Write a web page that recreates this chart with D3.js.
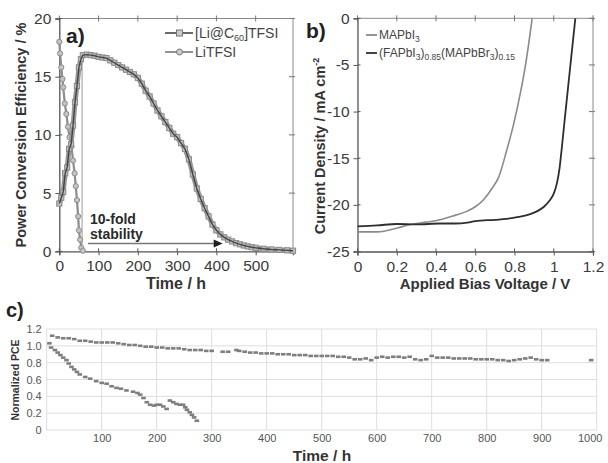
<!DOCTYPE html>
<html>
<head>
<meta charset="utf-8">
<script src="https://cdn.jsdelivr.net/npm/d3@7"></script>
<style>
  body { margin: 0; background: #fff; }
  text { font-family: "Liberation Sans", Arial, sans-serif; }
</style>
</head>
<body>
<div id="chart"></div>
<script>
// ---- data: panel a (PCE vs time) ----
var liC60_t = [0, 5, 10, 15, 20, 25, 30, 35, 40, 45, 50, 55, 60, 70, 80, 90, 100, 110, 120, 130, 140, 150, 160, 170, 180, 190, 200, 210, 220, 230, 240, 250, 260, 270, 280, 290, 300, 310, 320, 330, 340, 350, 360, 370, 380, 390, 400, 410, 420, 430, 440, 450, 460, 470, 480, 490, 500, 520, 540, 560, 580, 595];
var liC60_pce = [4.1, 4.6, 5.1, 6.7, 7.2, 8.8, 9.2, 10.8, 12.8, 14.2, 15.8, 16.5, 16.85, 16.9, 16.85, 16.8, 16.7, 16.65, 16.6, 16.4, 16.2, 16.0, 15.8, 15.6, 15.4, 15.2, 14.9, 14.4, 13.8, 13.3, 12.7, 12.1, 11.6, 11.1, 10.6, 10.1, 9.8, 9.3, 8.8, 7.9, 6.6, 5.4, 4.5, 3.7, 3.0, 2.3, 1.8, 1.45, 1.2, 1.0, 0.85, 0.7, 0.6, 0.5, 0.42, 0.35, 0.3, 0.22, 0.16, 0.12, 0.08, 0.05];
var liTFSI_t = [0, 2, 5, 8, 10, 14, 18, 22, 26, 31, 35, 39, 42, 45, 48, 50, 53, 56, 60];
var liTFSI_pce = [18, 17, 15.8, 14.8, 14.1, 12.7, 11.8, 10.7, 9.8, 9.0, 7.8, 6.7, 5.6, 4.4, 3.0, 1.8, 1.0, 0.3, 0.05];
var a_xTicks = [0, 100, 200, 300, 400, 500];
var a_yTicks = [0, 5, 10, 15, 20];

// ---- data: panel b (J-V) ----
var mapi_v = [0, 0.1, 0.2, 0.25, 0.3, 0.35, 0.42, 0.5, 0.557, 0.6, 0.64, 0.68, 0.72, 0.761, 0.795, 0.83, 0.86, 0.89];
var mapi_j = [-22.9, -22.9, -22.5, -22.2, -22.0, -21.85, -21.6, -21.1, -20.7, -20.2, -19.5, -18.4, -17, -14.1, -11.4, -8, -4.5, 0];
var mix_v = [0, 0.1, 0.2, 0.3, 0.42, 0.5, 0.56, 0.6, 0.7, 0.76, 0.82, 0.88, 0.914, 0.95, 0.98, 1.0, 1.016, 1.03, 1.04, 1.06, 1.08, 1.1, 1.11];
var mix_j = [-22.3, -22.2, -22.05, -22.1, -22.0, -22.0, -21.9, -21.75, -21.6, -21.5, -21.3, -21.0, -20.7, -20.2, -19.5, -18.8, -17.7, -16, -14.1, -10, -6, -2, 0];
var b_xTicks = [0, 0.2, 0.4, 0.6, 0.8, 1, 1.2];
var b_yTicks = [0, -5, -10, -15, -20, -25];

// ---- data: panel c (normalized PCE) ----
var upper_t = [10, 20, 30, 40, 50, 60, 70, 80, 90, 100, 110, 120, 130, 140, 150, 160, 170, 180, 190, 200, 210, 220, 230, 240, 250, 260, 270, 280, 290, 300, 320, 330, 345, 350, 360, 370, 380, 390, 400, 410, 420, 430, 440, 450, 460, 470, 480, 490, 500, 510, 520, 530, 540, 550, 560, 570, 580, 590, 600, 610, 620, 630, 640, 650, 660, 670, 680, 690, 700, 710, 720, 730, 740, 750, 760, 770, 780, 790, 800, 810, 820, 830, 840, 850, 860, 870, 880, 890, 900, 910, 990];
var upper_v = [1.12, 1.10, 1.09, 1.09, 1.08, 1.06, 1.06, 1.05, 1.04, 1.04, 1.04, 1.04, 1.03, 1.02, 1.01, 1.01, 1.00, 0.99, 0.99, 0.98, 0.98, 0.97, 0.97, 0.97, 0.96, 0.95, 0.95, 0.95, 0.94, 0.94, 0.93, 0.93, 0.95, 0.94, 0.93, 0.92, 0.92, 0.91, 0.91, 0.91, 0.90, 0.90, 0.90, 0.89, 0.89, 0.89, 0.88, 0.88, 0.88, 0.88, 0.88, 0.87, 0.87, 0.86, 0.84, 0.84, 0.85, 0.83, 0.86, 0.87, 0.86, 0.87, 0.87, 0.86, 0.87, 0.84, 0.83, 0.84, 0.88, 0.86, 0.86, 0.86, 0.85, 0.85, 0.85, 0.85, 0.84, 0.84, 0.84, 0.84, 0.83, 0.83, 0.82, 0.83, 0.84, 0.85, 0.86, 0.84, 0.83, 0.83, 0.83];
var lower_t = [5, 8, 15, 20, 25, 30, 36, 40, 45, 50, 55, 60, 70, 79, 90, 100, 109, 118, 127, 135, 145, 157, 165, 170, 176, 182, 188, 195, 200, 206, 212, 218, 224, 230, 236, 242, 248, 252, 255, 260, 264, 268, 273];
var lower_v = [1.03, 0.98, 0.95, 0.92, 0.89, 0.86, 0.83, 0.79, 0.75, 0.72, 0.69, 0.66, 0.63, 0.61, 0.58, 0.56, 0.55, 0.52, 0.50, 0.49, 0.47, 0.455, 0.44, 0.42, 0.38, 0.33, 0.30, 0.29, 0.30, 0.30, 0.28, 0.25, 0.35, 0.33, 0.31, 0.30, 0.30, 0.27, 0.24, 0.21, 0.18, 0.15, 0.11];
var c_xTicks = [100, 200, 300, 400, 500, 600, 700, 800, 900, 1000];
var c_yTicks = [0, 0.2, 0.4, 0.6, 0.8, 1.0, 1.2];

var W = 608, H = 463;
var svg = d3.select("#chart").append("svg")
    .attr("width", W)
    .attr("height", H);

function zip(a, b) { return a.map(function (d, i) { return [d, b[i]]; }); }

// ================= panel a =================
var xa = d3.scaleLinear().domain([0, 595]).range([59.3, 293]);
var ya = d3.scaleLinear().domain([0, 20]).range([251.3, 18.5]);

function frame(g, x, y, xt, yt, fmtX, fmtY) {
    var x0 = x.range()[0], x1 = x.range()[1], y0 = y.range()[0], y1 = y.range()[1];
    // top / right (lighter)
    g.append("line").attr("x1", x0).attr("x2", x1).attr("y1", y1).attr("y2", y1)
        .attr("stroke", "#8a8a8a").attr("stroke-width", 1);
    g.append("line").attr("x1", x1).attr("x2", x1).attr("y1", y1).attr("y2", y0)
        .attr("stroke", "#8a8a8a").attr("stroke-width", 1);
    g.selectAll(".tt").data(xt).enter().append("line")
        .attr("x1", function (d) { return x(d); }).attr("x2", function (d) { return x(d); })
        .attr("y1", y1 - 3).attr("y2", y1 + 3).attr("stroke", "#777");
    g.selectAll(".rt").data(yt).enter().append("line")
        .attr("x1", x1 - 4).attr("x2", x1 + 2)
        .attr("y1", function (d) { return y(d); }).attr("y2", function (d) { return y(d); })
        .attr("stroke", "#777");
    // left / bottom axes
    var ax = g.append("g").attr("transform", "translate(0," + y0 + ")")
        .call(d3.axisBottom(x).tickValues(xt).tickSize(4).tickPadding(5).tickFormat(fmtX));
    var ay = g.append("g").attr("transform", "translate(" + x0 + ",0)")
        .call(d3.axisLeft(y).tickValues(yt).tickSize(4).tickPadding(4).tickFormat(fmtY));
    [ax, ay].forEach(function (s) {
        s.select(".domain").attr("stroke", "#555").attr("stroke-width", 1.3);
        s.selectAll(".tick line").attr("stroke", "#555");
        s.selectAll("text").attr("fill", "#3a3a3a").style("font-size", "15.5px");
    });
    // inner half of crossing ticks
    g.selectAll(".bi").data(xt).enter().append("line")
        .attr("x1", function (d) { return x(d); }).attr("x2", function (d) { return x(d); })
        .attr("y1", y0).attr("y2", y0 - 3).attr("stroke", "#555");
    g.selectAll(".li").data(yt).enter().append("line")
        .attr("x1", x0).attr("x2", x0 + 3)
        .attr("y1", function (d) { return y(d); }).attr("y2", function (d) { return y(d); })
        .attr("stroke", "#555");
}

var ga = svg.append("g");
frame(ga, xa, ya, a_xTicks, a_yTicks, d3.format("d"), d3.format("d"));

// thin marker line at start of stable region
ga.append("line")
    .attr("x1", xa(58)).attr("x2", xa(58))
    .attr("y1", ya(16.8)).attr("y2", ya(0))
    .attr("stroke", "#999").attr("stroke-width", 1);

var lineA = d3.line().x(function (d) { return xa(d[0]); }).y(function (d) { return ya(d[1]); });

var tfsiData = zip(liTFSI_t, liTFSI_pce);
ga.append("path").datum(tfsiData).attr("d", lineA)
    .attr("fill", "none").attr("stroke", "#8c8c8c").attr("stroke-width", 2.2);
ga.selectAll(".tfsiPt").data(tfsiData).enter().append("circle")
    .attr("cx", function (d) { return xa(d[0]); })
    .attr("cy", function (d) { return ya(d[1]); })
    .attr("r", 2.6)
    .attr("fill", "#c4c4c4").attr("stroke", "#8c8c8c").attr("stroke-width", 1);

var c60Data = zip(liC60_t, liC60_pce);
ga.append("path").datum(c60Data).attr("d", lineA)
    .attr("fill", "none").attr("stroke", "#9a9a9a").attr("stroke-width", 5);
ga.selectAll(".c60Pt").data(c60Data).enter().append("rect")
    .attr("x", function (d) { return xa(d[0]) - 2.6; })
    .attr("y", function (d) { return ya(d[1]) - 2.6; })
    .attr("width", 5.2).attr("height", 5.2)
    .attr("fill", "#bdbdbd").attr("stroke", "#8a8a8a").attr("stroke-width", 1);
ga.append("path").datum(c60Data).attr("d", lineA)
    .attr("fill", "none").attr("stroke", "#454545").attr("stroke-width", 1.4);

// annotation
ga.append("text").attr("x", 90).attr("y", 224).attr("font-weight", "bold")
    .style("font-size", "14px").attr("fill", "#2a2a2a").text("10-fold");
ga.append("text").attr("x", 90).attr("y", 239).attr("font-weight", "bold")
    .style("font-size", "14px").attr("fill", "#2a2a2a").text("stability");
ga.append("line").attr("x1", xa(73)).attr("x2", xa(395)).attr("y1", 243.5).attr("y2", 243.5)
    .attr("stroke", "#777").attr("stroke-width", 1.3);
ga.append("path")
    .attr("d", "M" + xa(393) + ",239.5L" + (xa(393) + 9) + ",243.5L" + xa(393) + ",247.5Z")
    .attr("fill", "#222");

// legend a
var legA = [
    { y: 33, sym: "rect", dark: true, parts: [["[Li@C", 0], ["60", 1], ["]TFSI", 0]] },
    { y: 52, sym: "circle", dark: false, parts: [["LiTFSI", 0]] }
];
legA.forEach(function (d) {
    ga.append("line").attr("x1", 165).attr("x2", 193).attr("y1", d.y).attr("y2", d.y)
        .attr("stroke", d.dark ? "#454545" : "#777").attr("stroke-width", 1.6);
    if (d.sym === "rect") {
        ga.append("rect").attr("x", 176.5).attr("y", d.y - 3).attr("width", 6).attr("height", 6)
            .attr("fill", "#ccc").attr("stroke", "#777");
    } else {
        ga.append("circle").attr("cx", 179.5).attr("cy", d.y).attr("r", 3)
            .attr("fill", "#ccc").attr("stroke", "#777");
    }
    var t = ga.append("text").attr("x", 195).attr("y", d.y + 5).style("font-size", "14px").attr("fill", "#444");
    d.parts.forEach(function (p) {
        t.append("tspan").text(p[0])
            .style("font-size", p[1] ? "9px" : "14px")
            .attr("dy", p[1] ? 3 : (p[0] === "]TFSI" ? -3 : 0));
    });
});

ga.append("text").attr("x", 66).attr("y", 43).attr("font-weight", "bold")
    .style("font-size", "21px").attr("fill", "#222").text("a)");
ga.append("text").attr("transform", "translate(26,135) rotate(-90)")
    .attr("text-anchor", "middle").attr("font-weight", "bold")
    .style("font-size", "14.5px").attr("fill", "#333").text("Power Conversion Efficiency / %");
ga.append("text").attr("x", 176).attr("y", 289).attr("text-anchor", "middle").attr("font-weight", "bold")
    .style("font-size", "16px").attr("fill", "#333").text("Time / h");

// ================= panel b =================
var xb = d3.scaleLinear().domain([0, 1.2]).range([357.5, 593]);
var yb = d3.scaleLinear().domain([-25, 0]).range([251.5, 18.3]);
var gb = svg.append("g");
frame(gb, xb, yb, b_xTicks, b_yTicks, function (d) { return d3.format("")(+d.toFixed(1)); }, d3.format("d"));
gb.selectAll(".tick text").filter(function () { return this.textContent.charAt(0) === "\u2212"; })
    .text(function () { return this.textContent.replace("\u2212", "-"); });

var lineB = d3.line().x(function (d) { return xb(d[0]); }).y(function (d) { return yb(d[1]); })
    .curve(d3.curveMonotoneX);
gb.append("path").datum(zip(mapi_v, mapi_j)).attr("d", lineB)
    .attr("fill", "none").attr("stroke", "#8a8a8a").attr("stroke-width", 1.6);
gb.append("path").datum(zip(mix_v, mix_j)).attr("d", lineB)
    .attr("fill", "none").attr("stroke", "#2e2e2e").attr("stroke-width", 1.8);

var legB = [
    { y: 35, col: "#8a8a8a", parts: [["MAPbI", 0], ["3", 1]] },
    { y: 53, col: "#2e2e2e", parts: [["(FAPbI", 0], ["3", 1], [")", 0], ["0.85", 1], ["(MAPbBr", 0], ["3", 1], [")", 0], ["0.15", 1]] }
];
legB.forEach(function (d) {
    gb.append("line").attr("x1", 366).attr("x2", 377).attr("y1", d.y).attr("y2", d.y)
        .attr("stroke", d.col).attr("stroke-width", 1.8);
    var t = gb.append("text").attr("x", 379).attr("y", d.y + 4).attr("fill", "#444");
    var sub = false;
    d.parts.forEach(function (p) {
        var dy = 0;
        if (p[1] && !sub) { dy = 3; sub = true; }
        else if (!p[1] && sub) { dy = -3; sub = false; }
        t.append("tspan").text(p[0]).attr("dy", dy).style("font-size", p[1] ? "8.5px" : "12px");
    });
});

gb.append("text").attr("x", 306).attr("y", 38).attr("font-weight", "bold")
    .style("font-size", "21px").attr("fill", "#222").text("b)");
var yt = gb.append("text").attr("transform", "translate(325,146) rotate(-90)")
    .attr("text-anchor", "middle").attr("font-weight", "bold")
    .style("font-size", "14.5px").attr("fill", "#333");
yt.append("tspan").text("Current Density / mA cm");
yt.append("tspan").text("-2").attr("dy", -6).style("font-size", "9px");
gb.append("text").attr("x", 485).attr("y", 289).attr("text-anchor", "middle").attr("font-weight", "bold")
    .style("font-size", "15px").attr("fill", "#333").text("Applied Bias Voltage / V");

// ================= panel c =================
var xc = d3.scaleLinear().domain([0, 1000]).range([46.7, 596.7]);
var yc = d3.scaleLinear().domain([0, 1.2]).range([430, 329]);
var gc = svg.append("g");

gc.selectAll(".vg").data([0].concat(c_xTicks)).enter().append("line")
    .attr("x1", function (d) { return xc(d); }).attr("x2", function (d) { return xc(d); })
    .attr("y1", yc(1.2)).attr("y2", yc(0))
    .attr("stroke", "#dedede").attr("stroke-width", 1);
gc.selectAll(".hg").data(c_yTicks).enter().append("line")
    .attr("x1", xc(0)).attr("x2", xc(1000))
    .attr("y1", function (d) { return yc(d); }).attr("y2", function (d) { return yc(d); })
    .attr("stroke", "#dedede").attr("stroke-width", 1);

var axc = gc.append("g").attr("transform", "translate(0," + yc(0) + ")")
    .call(d3.axisBottom(xc).tickValues(c_xTicks).tickSize(0).tickPadding(4).tickFormat(d3.format("d")));
var ayc = gc.append("g").attr("transform", "translate(" + xc(0) + ",0)")
    .call(d3.axisLeft(yc).tickValues(c_yTicks).tickSize(0).tickPadding(5)
        .tickFormat(function (d) { return d === 0 ? "0" : d3.format(".1f")(d); }));
[axc, ayc].forEach(function (s) {
    s.select(".domain").remove();
    s.selectAll("text").attr("fill", "#555").style("font-size", "11px");
});
// last label sits against the right edge
axc.selectAll(".tick text").filter(function (d) { return d === 1000; }).attr("dx", -7);

var cPts = zip(upper_t, upper_v).concat(zip(lower_t, lower_v));
gc.selectAll(".cPt").data(cPts).enter().append("rect")
    .attr("x", function (d) { return xc(d[0]) - 2.3; })
    .attr("y", function (d) { return yc(d[1]) - 1.3; })
    .attr("width", 4.6).attr("height", 2.6)
    .attr("fill", "#7e7e7e");

gc.append("text").attr("x", 6).attr("y", 317).attr("font-weight", "bold")
    .style("font-size", "20px").attr("fill", "#222").text("c)");
gc.append("text").attr("transform", "translate(19,380) rotate(-90)")
    .attr("text-anchor", "middle").attr("font-weight", "bold")
    .style("font-size", "10.5px").attr("fill", "#333").text("Normalized PCE");
gc.append("text").attr("x", 322).attr("y", 461).attr("text-anchor", "middle").attr("font-weight", "bold")
    .style("font-size", "15.5px").attr("fill", "#333").text("Time / h");
</script>
</body>
</html>
